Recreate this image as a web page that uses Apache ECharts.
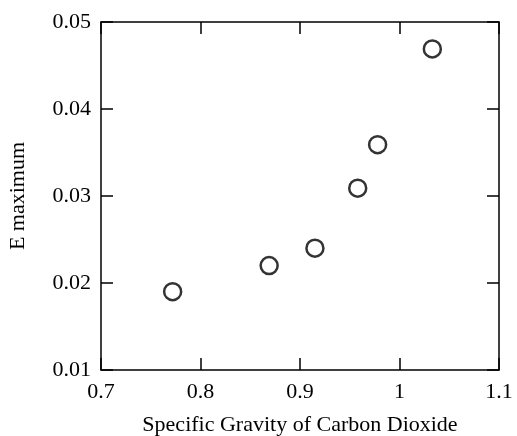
<!DOCTYPE html>
<html lang="en">
<head>
    <meta charset="UTF-8">
    <title>E maximum</title>
    <script src="https://cdn.jsdelivr.net/npm/echarts@6/dist/echarts.min.js"></script>
    <style>
        html, body { margin: 0; padding: 0; background: #fff; }
        #charts { width: 517px; height: 436px; }
    </style>
</head>
<body>
<div id="charts"></div>
<script>
    var gravity = [0.772, 0.869, 0.915, 0.958, 0.978, 1.033];
    var eMax = [0.0190, 0.0220, 0.0240, 0.0309, 0.0359, 0.0469];
    var xTicks = [0.7, 0.8, 0.9, 1.0, 1.1];
    var yTicks = [0.01, 0.02, 0.03, 0.04, 0.05];

    var points = [];
    for (var i = 0; i < gravity.length; i++) {
        points.push([gravity[i], eMax[i]]);
    }

    var font = 'Liberation Serif';
    var myChart = echarts.init(document.getElementById('charts'));

    function xAxisOf(pos, labels) {
        return {
            type: 'value',
            position: pos,
            min: xTicks[0],
            max: xTicks[xTicks.length - 1],
            interval: 0.1,
            axisLine: { show: true, onZero: false, lineStyle: { color: '#000', width: 1.5 } },
            axisTick: { show: true, inside: true, length: 12, lineStyle: { color: '#000', width: 1.5 } },
            splitLine: { show: false },
            axisLabel: {
                show: labels,
                color: '#000',
                fontFamily: font,
                fontSize: 22,
                margin: 11,
                formatter: function (v) { return String(Math.round(v * 10) / 10); }
            },
            name: labels ? 'Specific Gravity of Carbon Dioxide' : '',
            nameLocation: 'middle',
            nameGap: 44,
            nameTextStyle: { color: '#000', fontFamily: font, fontSize: 22 }
        };
    }

    function yAxisOf(pos, labels) {
        return {
            type: 'value',
            position: pos,
            min: yTicks[0],
            max: yTicks[yTicks.length - 1],
            interval: 0.01,
            axisLine: { show: true, onZero: false, lineStyle: { color: '#000', width: 1.5 } },
            axisTick: { show: true, inside: true, length: 12, lineStyle: { color: '#000', width: 1.5 } },
            splitLine: { show: false },
            axisLabel: {
                show: labels,
                color: '#000',
                fontFamily: font,
                fontSize: 22,
                margin: 10,
                formatter: function (v) { return (Math.round(v * 100) / 100).toFixed(2); }
            },
            name: labels ? 'E maximum' : '',
            nameLocation: 'middle',
            nameGap: 72,
            nameTextStyle: { color: '#000', fontFamily: font, fontSize: 22 }
        };
    }

    var option = {
        animation: false,
        grid: { left: 101, right: 18, top: 22, bottom: 66, outerBoundsMode: 'none' },
        xAxis: [xAxisOf('bottom', true), xAxisOf('top', false)],
        yAxis: [yAxisOf('left', true), yAxisOf('right', false)],
        series: [
            {
                type: 'scatter',
                data: points,
                symbol: 'circle',
                symbolSize: 17,
                itemStyle: { color: '#fff', borderColor: '#000', borderWidth: 2.5 }
            }
        ]
    };

    myChart.setOption(option);
</script>
</body>
</html>
